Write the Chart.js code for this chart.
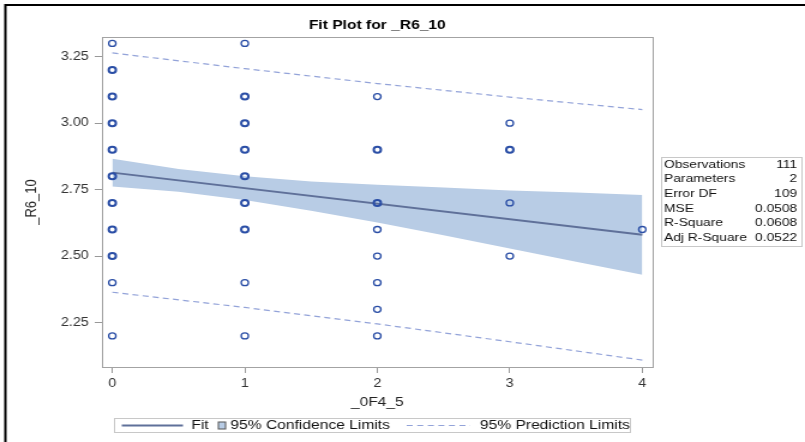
<!DOCTYPE html>
<html>
<head>
<meta charset="utf-8">
<script src="https://cdn.jsdelivr.net/npm/chart.js@4.4.1/dist/chart.umd.min.js"></script>
<style>
  html, body { margin: 0; padding: 0; background: #fff; overflow: hidden; }
  /* the plot is drawn narrow and widened, like the SAS export */
  #wrap { width: 671px; height: 442px; transform: scaleX(1.1997); transform-origin: 0 0; }
  canvas { display: block; }
</style>
</head>
<body>
<div id="wrap"><canvas id="fit-plot" width="671" height="442"></canvas></div>
<script>
// observations: x = _0F4_5, y = _R6_10
var obsX = [0,0,0,0,0,0,0,0,0,0,0, 1,1,1,1,1,1,1,1,1, 2,2,2,2,2,2,2,2, 3,3,3,3, 4];
var obsY = [3.3,3.2,3.1,3.0,2.9,2.8,2.7,2.6,2.5,2.4,2.2,
            3.3,3.1,3.0,2.9,2.8,2.7,2.6,2.4,2.2,
            3.1,2.9,2.7,2.6,2.5,2.4,2.3,2.2,
            3.0,2.9,2.7,2.5,
            2.6];
// 1 where several observations land on the same spot
var obsStacked = [0,1,1,1,1,1,1,1,1,0,0, 0,1,1,1,1,1,1,0,0, 0,1,1,0,0,0,0,0, 0,1,0,0, 0];

// regression fit
var fitX = [0, 4];
var fitY = [2.814, 2.580];

// 95% confidence band
var bandX = [0, 0.5, 1, 1.5, 2, 2.5, 3, 3.5, 4];
var clUpper = [2.866, 2.828, 2.800, 2.781, 2.768, 2.758, 2.747, 2.739, 2.730];
var clLower = [2.762, 2.742, 2.711, 2.671, 2.626, 2.578, 2.529, 2.479, 2.430];

// 95% prediction limits
var predX = [0, 1, 2, 3, 4];
var predUpper = [3.264, 3.205, 3.149, 3.098, 3.051];
var predLower = [2.364, 2.307, 2.245, 2.178, 2.109];

var xTicks = [0, 1, 2, 3, 4];
var yTicks = [2.25, 2.50, 2.75, 3.00, 3.25];

var statLabels = ["Observations", "Parameters", "Error DF", "MSE", "R-Square", "Adj R-Square"];
var statValues = ["111", "2", "109", "0.0508", "0.0608", "0.0522"];

var FONT = "'Liberation Sans', Arial, sans-serif";
var fitColor = "#5f7099";
var bandColor = "#b8cce5";
var predColor = "#93a3d9";
var markColor = "#2a4ea6";

function pairs(xs, ys) {
  return xs.map(function (x, i) { return {x: x, y: ys[i]}; });
}

// title, frame, stats table and legend
var decor = {
  id: "decor",
  beforeDraw: function (chart) {
    var ctx = chart.ctx;
    ctx.save();
    ctx.fillStyle = "#fff";
    ctx.fillRect(0, 0, chart.width, chart.height);
    ctx.restore();
  },
  afterDraw: function (chart) {
    var ctx = chart.ctx;
    var a = chart.chartArea;
    ctx.save();

    // plot frame
    ctx.strokeStyle = "#a3a3a3";
    ctx.lineWidth = 1;
    ctx.strokeRect(a.left + 0.5, a.top + 0.5, a.right - a.left, a.bottom - a.top);

    // outer frame
    ctx.strokeStyle = "#000";
    ctx.lineWidth = 2;
    ctx.strokeRect(4.5, 5, chart.width + 20, chart.height + 20);

    // title
    ctx.fillStyle = "#000";
    ctx.font = "bold 13px " + FONT;
    ctx.textAlign = "center";
    ctx.textBaseline = "middle";
    ctx.fillText("Fit Plot for _R6_10", (a.left + a.right) / 2, 25);

    // fit statistics
    ctx.strokeStyle = "#c8c8c8";
    ctx.lineWidth = 1;
    ctx.strokeRect(551.5, 157.5, 117, 89);
    ctx.font = "11.5px " + FONT;
    ctx.fillStyle = "#111";
    statLabels.forEach(function (lab, i) {
      var y = 164.5 + i * 14.65;
      ctx.textAlign = "left";
      ctx.fillText(lab, 553.5, y);
      ctx.textAlign = "right";
      ctx.fillText(statValues[i], 664.5, y);
    });

    // legend
    var ly = 425.5;
    ctx.strokeStyle = "#c8c8c8";
    ctx.strokeRect(95.5, 418.5, 430, 14);
    ctx.strokeStyle = fitColor;
    ctx.lineWidth = 2;
    ctx.beginPath();
    ctx.moveTo(101.5, ly);
    ctx.lineTo(152.5, ly);
    ctx.stroke();
    ctx.fillStyle = bandColor;
    ctx.fillRect(182, 422, 6, 7);
    ctx.strokeStyle = "#555";
    ctx.lineWidth = 1;
    ctx.strokeRect(182, 422, 6, 7);
    ctx.strokeStyle = predColor;
    ctx.setLineDash([5, 3.8]);
    ctx.beginPath();
    ctx.moveTo(339, ly);
    ctx.lineTo(392, ly);
    ctx.stroke();
    ctx.setLineDash([]);
    ctx.font = "13px " + FONT;
    ctx.fillStyle = "#111";
    ctx.textAlign = "left";
    ctx.fillText("Fit", 159.5, ly);
    ctx.fillText("95% Confidence Limits", 192, ly);
    ctx.fillText("95% Prediction Limits", 400, ly);

    ctx.restore();
  }
};

var plotCanvas = document.getElementById("fit-plot");

var fitPlot = new Chart(plotCanvas, {
  type: "scatter",
  data: {
    datasets: [
      {
        label: "_R6_10",
        data: pairs(obsX, obsY),
        pointStyle: "circle",
        pointRadius: 3,
        pointBorderColor: markColor,
        pointBackgroundColor: "rgba(255,255,255,0)",
        pointBorderWidth: function (c) { return obsStacked[c.dataIndex] ? 2 : 1.3; }
      },
      {
        label: "Fit",
        data: pairs(fitX, fitY),
        showLine: true,
        borderColor: fitColor,
        borderWidth: 2,
        pointRadius: 0
      },
      {
        label: "Upper prediction",
        data: pairs(predX, predUpper),
        showLine: true,
        borderColor: predColor,
        borderWidth: 1.2,
        borderDash: [5, 3.5],
        pointRadius: 0
      },
      {
        label: "Lower prediction",
        data: pairs(predX, predLower),
        showLine: true,
        borderColor: predColor,
        borderWidth: 1.2,
        borderDash: [5, 3.5],
        pointRadius: 0
      },
      {
        label: "Upper confidence",
        data: pairs(bandX, clUpper),
        showLine: true,
        borderWidth: 0,
        borderColor: "rgba(0,0,0,0)",
        pointRadius: 0,
        fill: false
      },
      {
        label: "Lower confidence",
        data: pairs(bandX, clLower),
        showLine: true,
        borderWidth: 0,
        borderColor: "rgba(0,0,0,0)",
        backgroundColor: bandColor,
        pointRadius: 0,
        fill: "-1"
      }
    ]
  },
  options: {
    responsive: false,
    animation: false,
    events: [],
    layout: { padding: { left: 4, top: 37, right: 127, bottom: 0 } },
    plugins: {
      legend: { display: false },
      tooltip: { enabled: false },
      title: { display: false }
    },
    scales: {
      x: {
        type: "linear",
        min: -0.078,
        max: 4.078,
        afterBuildTicks: function (s) { s.ticks = xTicks.map(function (v) { return {value: v}; }); },
        afterFit: function (s) { s.height = 75; },
        ticks: {
          color: "#333",
          font: { family: FONT, size: 12 },
          padding: 3,
          callback: function (v) { return String(v); }
        },
        grid: { drawOnChartArea: false, drawTicks: true, tickLength: 6, color: "#999" },
        border: { display: false },
        title: {
          display: true,
          text: "_0F4_5",
          color: "#222",
          font: { family: FONT, size: 13 },
          padding: { top: 0, bottom: 32 }
        }
      },
      y: {
        min: 2.083,
        max: 3.324,
        afterBuildTicks: function (s) { s.ticks = yTicks.map(function (v) { return {value: v}; }); },
        afterFit: function (s) { s.width = 81; },
        ticks: {
          color: "#333",
          font: { family: FONT, size: 12 },
          padding: 5,
          callback: function (v) { return v.toFixed(2); }
        },
        grid: { drawOnChartArea: false, drawTicks: true, tickLength: 6, color: "#999" },
        border: { display: false },
        title: {
          display: true,
          text: "_R6_10",
          color: "#222",
          font: { family: FONT, size: 13 },
          padding: { top: 15, bottom: 0 }
        }
      }
    }
  },
  plugins: [decor]
});
</script>
</body>
</html>
